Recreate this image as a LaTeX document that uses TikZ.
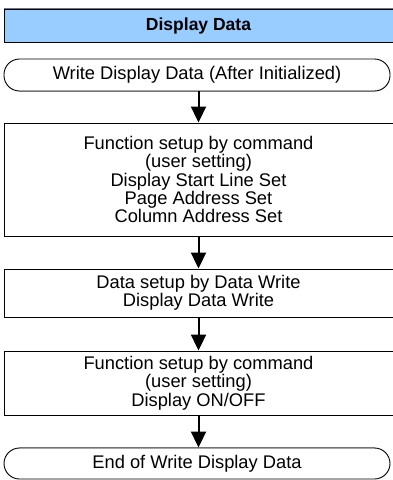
\documentclass[tikz,border=0pt]{standalone}
\usepackage{fontspec}
\setmainfont{Liberation Sans}
\usetikzlibrary{arrows.meta}
\definecolor{hdrblue}{HTML}{99CCFF}
\definecolor{edgegray}{HTML}{6B7580}
\begin{document}
\begin{tikzpicture}[x=1pt,y=-1pt,
  txt/.style={font=\fontsize{18.3}{18.3}\selectfont, align=center, inner sep=0pt},
  hdr/.style={draw=black, line width=0.9pt, fill=hdrblue, minimum width=389pt, minimum height=33pt, inner sep=0pt, font=\fontsize{17.5}{17.5}\selectfont\bfseries},
  box/.style={txt, draw=black, line width=0.9pt, minimum width=389pt},
  term/.style={txt, draw=black, line width=0.9pt, rounded corners=15.5pt, minimum width=386pt},
  grayedge/.style={draw=edgegray, line width=1.4pt},
  arr/.style={line width=2pt, -{Triangle[length=16pt,width=15pt]}}]
\useasboundingbox (0,0) rectangle (392,480);
\node[hdr] (hdr) at (198.5,25.5) {Display Data};
\draw[grayedge] (hdr.north west) -- (hdr.north east);
\node[term, minimum height=32pt] (t1) at (197,75) {Write Display Data (After Initialized)};
\draw[grayedge] ([xshift=15.5pt]t1.south west) -- ([xshift=-15.5pt]t1.south east);
\node[box, minimum height=113pt] (b1) at (198.5,179.5) {Function setup by command\\(user setting)\\Display Start Line Set\\Page Address Set\\Column Address Set};
\node[box, minimum height=48pt] (b2) at (198.5,293) {Data setup by Data Write\\Display Data Write};
\node[box, minimum height=64pt] (b3) at (198.5,383) {Function setup by command\\(user setting)\\Display ON/OFF};
\node[term, minimum height=31pt] (t2) at (197,463.5) {End of Write Display Data};
\draw[grayedge] ([xshift=15.5pt]t2.north west) -- ([xshift=-15.5pt]t2.north east);
\draw[arr] (t1.south -| b1.north) -- (b1.north);
\draw[arr] (b1.south) -- (b2.north);
\draw[arr] (b2.south) -- (b3.north);
\draw[arr] (b3.south) -- (t2.north -| b3.south);
\end{tikzpicture}
\end{document}
